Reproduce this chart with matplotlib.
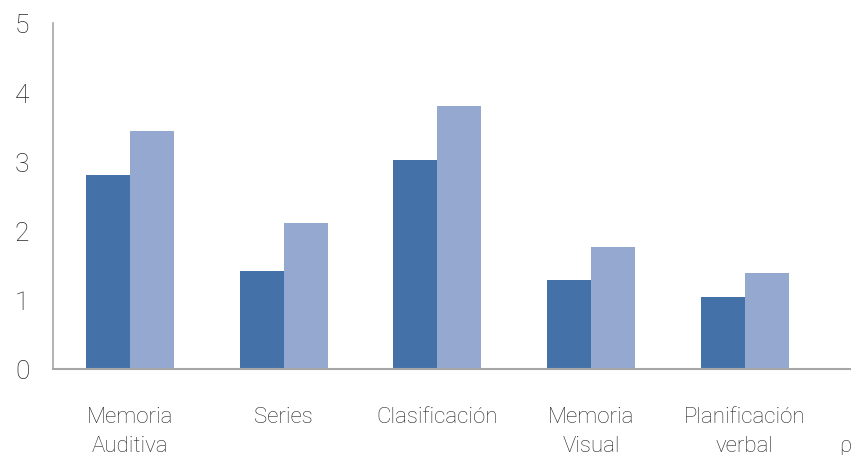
import matplotlib
matplotlib.use("Agg")
import matplotlib.pyplot as plt
import numpy as np

# categorías y puntajes de las dos series
categorias = ["Memoria\nAuditiva", "Series", "Clasificación", "Memoria\nVisual", "Planificación\nverbal"]
serie_1 = [2.80, 1.42, 3.02, 1.29, 1.04]
serie_2 = [3.44, 2.11, 3.80, 1.76, 1.39]
yticks = [0, 1, 2, 3, 4, 5]

plt.rcParams['font.family'] = ['Roboto', 'DejaVu Sans']

fig = plt.figure(figsize=(8.51, 4.56), dpi=100)
ax = fig.add_axes([53 / 851, 86 / 456, 1 - 53 / 851, (370 - 24) / 456])

x = np.arange(len(categorias))
w = 0.286
ax.bar(x - w / 2, serie_1, width=w, color='#4472a8', zorder=2)
ax.bar(x + w / 2, serie_2, width=w, color='#95a9d0', zorder=2)

ax.set_xlim(-0.5, 4.69)
ax.set_ylim(0, 5)
ax.set_yticks(yticks)
ax.set_yticklabels([str(v) for v in yticks], fontsize=19, color='#262626',
                   fontweight='light')
ax.tick_params(axis='y', length=0, pad=17)
ax.set_xticks(x)
ax.set_xticklabels(categorias, fontsize=16, color='#262626', fontweight='light',
                   linespacing=1.5)
ax.tick_params(axis='x', length=0, pad=27)

for s in ['top', 'right']:
    ax.spines[s].set_visible(False)
ax.spines['left'].set_color('#a6a6a6')
ax.spines['bottom'].set_color('#a6a6a6')
ax.spines['left'].set_linewidth(1.2)
ax.spines['bottom'].set_linewidth(1.5)

fig.text(845 / 851, 1 - 447 / 456, "ρ", fontsize=16, color='#262626',
         ha='center', va='center', fontweight='light')

fig.savefig("out.png", dpi=100, facecolor='white')
